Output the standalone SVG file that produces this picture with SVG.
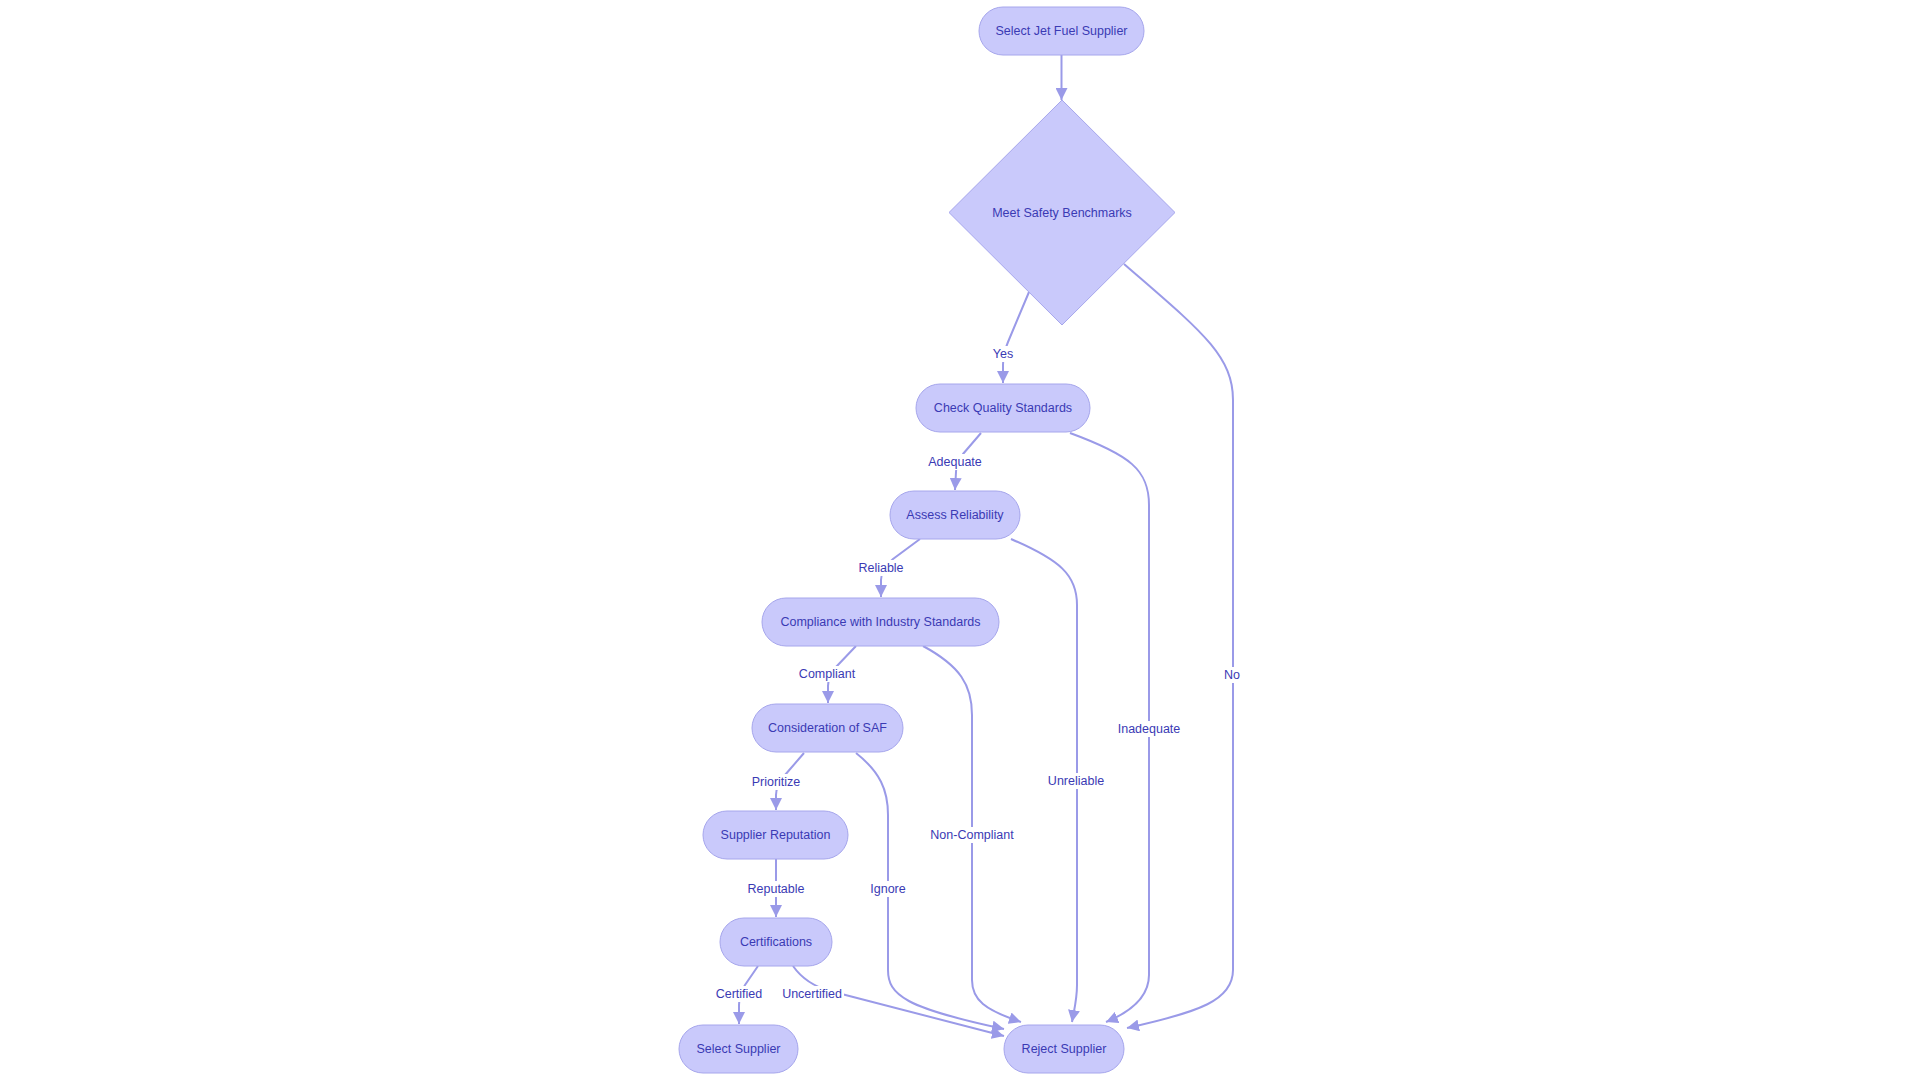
<svg xmlns="http://www.w3.org/2000/svg" width="1920" height="1080" viewBox="0 0 1920 1080">
<defs>
<style>
.node rect, .node polygon { fill:#c9c9fb; stroke:#a6a6ec; stroke-width:1; }
.nt { font-family:"Liberation Sans", Arial, sans-serif; font-size:12.5px; fill:#3a3ab4; text-anchor:middle; dominant-baseline:central; }
.edge { fill:none; stroke:#9a9ae8; stroke-width:2; marker-end:url(#arr); }
.lbg { fill:#ffffff; }
.lt { font-family:"Liberation Sans", Arial, sans-serif; font-size:12.5px; fill:#3a3ab4; text-anchor:middle; dominant-baseline:central; }
</style>
<marker id="arr" markerUnits="userSpaceOnUse" markerWidth="12" markerHeight="12" viewBox="0 0 10 10" refX="10" refY="5" orient="auto">
<path d="M0,0 L10,5 L0,10 z" fill="#9a9ae8"/>
</marker>
</defs>
<rect width="1920" height="1080" fill="#ffffff"/>
<g id="connectors">
<path class="edge" d="M1061.5,55 L1061.5,100"/>
<path class="edge" d="M1029,292 L1008,342 Q1003,354 1003,365 L1003,383"/>
<path class="edge" d="M981,433 L963,454 Q956,463 956,472 L955,490"/>
<path class="edge" d="M920,539 L893,559 Q881,569 881,580 L881,597"/>
<path class="edge" d="M856,646 L836,667 Q828,676 828,686 L828,703"/>
<path class="edge" d="M804,753 L785,775 Q776,786 776,795 L776,810"/>
<path class="edge" d="M776,859 L776,917"/>
<path class="edge" d="M758,966 L745,985 Q739,995 739,1005 L739,1024"/>
<path class="edge" d="M793,966 C800,976 812,986 830,991 L1004,1036"/>
<path class="edge" d="M856,753 C880,772 888,790 888,815 L888,970 C888,995 905,1008 1004,1029"/>
<path class="edge" d="M923,646 C960,666 972,685 972,715 L972,980 C972,1000 985,1010 1021,1022"/>
<path class="edge" d="M1011,539 C1060,560 1077,575 1077,605 L1077,985 C1077,1000 1074,1010 1072,1022"/>
<path class="edge" d="M1070,433 C1130,455 1149,470 1149,505 L1149,975 C1149,995 1135,1010 1106,1022"/>
<path class="edge" d="M1124,264 C1200,330 1233,355 1233,400 L1233,970 C1233,1000 1200,1012 1127,1028"/>
</g>
<g id="edge-labels">
<rect class="lbg" x="990" y="346" width="26" height="16"/><text class="lt" x="1003" y="354">Yes</text>
<rect class="lbg" x="928" y="454" width="54" height="16"/><text class="lt" x="955" y="462">Adequate</text>
<rect class="lbg" x="858" y="560" width="46" height="16"/><text class="lt" x="881" y="568">Reliable</text>
<rect class="lbg" x="798" y="666" width="58" height="16"/><text class="lt" x="827" y="674">Compliant</text>
<rect class="lbg" x="752" y="774" width="48" height="16"/><text class="lt" x="776" y="782">Prioritize</text>
<rect class="lbg" x="748" y="881" width="56" height="16"/><text class="lt" x="776" y="889">Reputable</text>
<rect class="lbg" x="870" y="881" width="36" height="16"/><text class="lt" x="888" y="889">Ignore</text>
<rect class="lbg" x="929" y="827" width="86" height="16"/><text class="lt" x="972" y="835">Non-Compliant</text>
<rect class="lbg" x="1047" y="773" width="58" height="16"/><text class="lt" x="1076" y="781">Unreliable</text>
<rect class="lbg" x="1118" y="721" width="62" height="16"/><text class="lt" x="1149" y="729">Inadequate</text>
<rect class="lbg" x="1222" y="667" width="20" height="16"/><text class="lt" x="1232" y="675">No</text>
<rect class="lbg" x="713" y="986" width="52" height="16"/><text class="lt" x="739" y="994">Certified</text>
<rect class="lbg" x="780" y="986" width="64" height="16"/><text class="lt" x="812" y="994">Uncertified</text>
</g>
<g id="n-start" class="node"><rect x="979" y="7" width="165" height="48" rx="24"/><text class="nt" x="1061.5" y="31">Select Jet Fuel Supplier</text></g>
<g id="n-safety" class="node"><polygon points="1062,100 1175,212.5 1062,325 949,212.5"/><text class="nt" x="1062" y="212.5">Meet Safety Benchmarks</text></g>
<g id="n-quality" class="node"><rect x="916" y="384" width="174" height="48" rx="24"/><text class="nt" x="1003" y="408">Check Quality Standards</text></g>
<g id="n-reliability" class="node"><rect x="890" y="491" width="130" height="48" rx="24"/><text class="nt" x="955" y="515">Assess Reliability</text></g>
<g id="n-compliance" class="node"><rect x="762" y="598" width="237" height="48" rx="24"/><text class="nt" x="880.5" y="622">Compliance with Industry Standards</text></g>
<g id="n-saf" class="node"><rect x="752" y="704" width="151" height="48" rx="24"/><text class="nt" x="827.5" y="728">Consideration of SAF</text></g>
<g id="n-reputation" class="node"><rect x="703" y="811" width="145" height="48" rx="24"/><text class="nt" x="775.5" y="835">Supplier Reputation</text></g>
<g id="n-cert" class="node"><rect x="720" y="918" width="112" height="48" rx="24"/><text class="nt" x="776" y="942">Certifications</text></g>
<g id="n-select" class="node"><rect x="679" y="1025" width="119" height="48" rx="24"/><text class="nt" x="738.5" y="1049">Select Supplier</text></g>
<g id="n-reject" class="node"><rect x="1004" y="1025" width="120" height="48" rx="24"/><text class="nt" x="1064" y="1049">Reject Supplier</text></g>
</svg>
